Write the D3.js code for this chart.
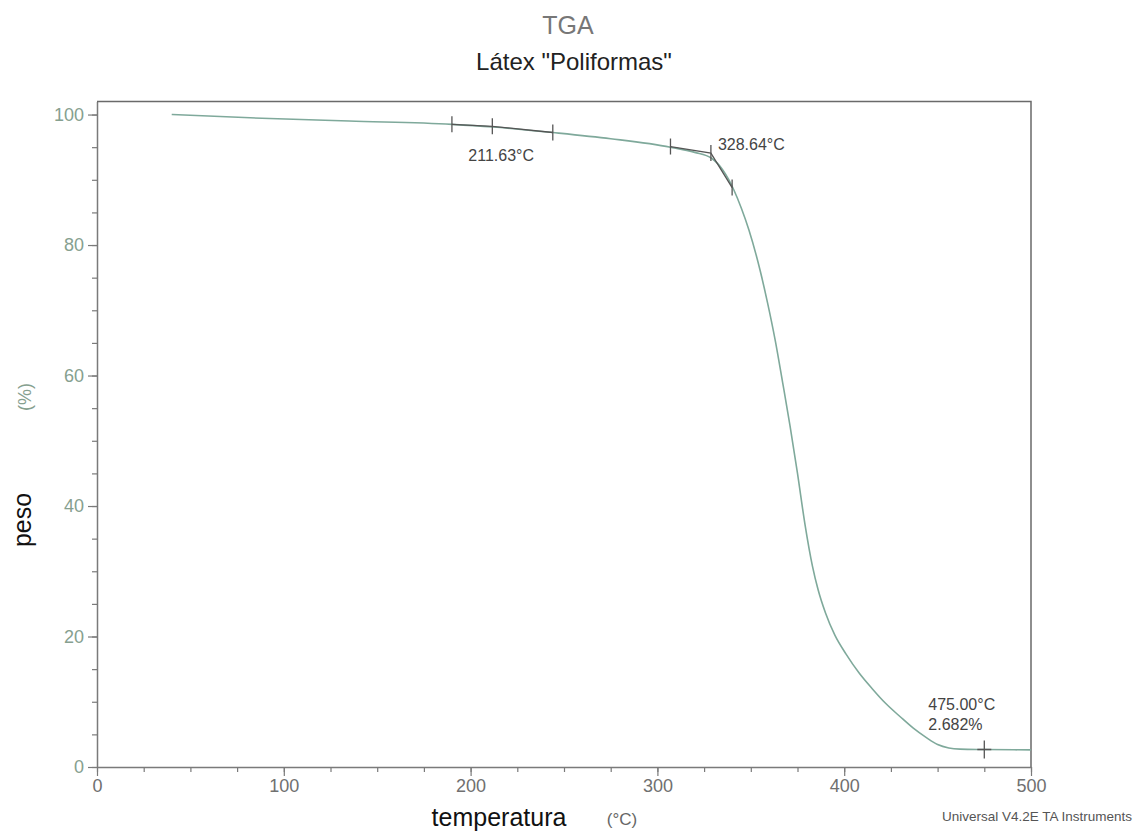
<!DOCTYPE html>
<html>
<head>
<meta charset="utf-8">
<script src="https://cdn.jsdelivr.net/npm/d3@7"></script>
<style>
  body { margin: 0; background: #fff; }
  svg { font-family: "Liberation Sans", Arial, sans-serif; }
</style>
</head>
<body>
<div id="tga"></div>
<script>
// TGA curve
var temps   = [40, 82, 135, 190, 212, 244, 275, 307, 320, 329, 335, 341, 345, 349, 355, 359, 363, 367, 371, 375, 379, 383, 386, 390, 395, 401, 408, 415, 422, 430, 437, 444, 450, 456, 462, 475, 500];
var weights = [100.0, 99.5, 99.0, 98.5, 98.1, 97.25, 96.3, 95.0, 94.2, 93.3, 91.5, 88.4, 85.6, 82.3, 76.1, 71.1, 65.5, 59.0, 52.3, 45.0, 37.2, 30.8, 27.2, 23.6, 20.2, 17.3, 14.4, 12.0, 9.8, 7.7, 5.95, 4.5, 3.45, 2.92, 2.74, 2.68, 2.62];

// onset tangents (start, onset, end)
var onsetTemps1 = [190, 211.63, 244], onsetWeights1 = [98.5, 98.2, 97.25];
var onsetTemps2 = [307, 328.64, 340], onsetWeights2 = [95.1, 94.1, 88.8];
var endTemp = 475.00, endWeight = 2.682;

var xMajor = [0, 100, 200, 300, 400, 500];
var yMajor = [0, 20, 40, 60, 80, 100];

var margin = { top: 101.5, left: 97 },
    width = 934, height = 665.5;

var svg = d3.select("#tga").append("svg")
    .attr("width", 1139)
    .attr("height", 838);

var g = svg.append("g")
    .attr("transform", "translate(" + margin.left + "," + margin.top + ")");

var x = d3.scaleLinear().domain([0, 500]).range([0, width]);
var y = d3.scaleLinear().domain([0, 102]).range([height, 0]);

// minor ticks first, no domain line
var xMinor = g.append("g")
    .attr("transform", "translate(0," + height + ")")
    .call(d3.axisBottom(x).tickValues(d3.range(0, 501, 25)).tickSize(5).tickFormat(""));
xMinor.select(".domain").remove();
var yMinor = g.append("g")
    .call(d3.axisLeft(y).tickValues(d3.range(0, 101, 5)).tickSize(5).tickFormat(""));
yMinor.select(".domain").remove();

var gx = g.append("g")
    .attr("transform", "translate(0," + height + ")")
    .call(d3.axisBottom(x).tickValues(xMajor).tickSize(9).tickSizeOuter(0).tickPadding(3));
gx.selectAll("text").attr("font-size", 18).attr("fill", "#707070");

var gy = g.append("g")
    .call(d3.axisLeft(y).tickValues(yMajor).tickSize(9).tickSizeOuter(0).tickPadding(4));
gy.selectAll("text").attr("font-size", 18).attr("fill", "#86a08f");

g.selectAll(".tick line").attr("stroke", "#7a7a7a").attr("stroke-width", 1.2);
g.selectAll(".domain").attr("stroke", "#7a7a7a").attr("stroke-width", 1.5);

// frame top and right
g.append("path")
    .attr("d", "M0,0H" + width + "V" + height)
    .attr("fill", "none")
    .attr("stroke", "#6a6a6a")
    .attr("stroke-width", 1.5);

var line = d3.line()
    .x(function(d, i) { return x(temps[i]); })
    .y(function(d) { return y(d); })
    .curve(d3.curveMonotoneX);

g.append("path")
    .attr("d", line(weights))
    .attr("fill", "none")
    .attr("stroke", "#7fa99b")
    .attr("stroke-width", 1.6);

function onset(ts, ws) {
    var pts = ts.map(function(t, i) { return [x(t), y(ws[i])]; });
    g.append("path")
        .attr("d", d3.line()(pts))
        .attr("fill", "none")
        .attr("stroke", "#555")
        .attr("stroke-width", 1.3);
    g.selectAll(null)
        .data(pts)
        .enter().append("line")
        .attr("x1", function(d) { return d[0]; })
        .attr("x2", function(d) { return d[0]; })
        .attr("y1", function(d) { return d[1] - 8; })
        .attr("y2", function(d) { return d[1] + 8; })
        .attr("stroke", "#555")
        .attr("stroke-width", 1.3);
}
onset(onsetTemps1, onsetWeights1);
onset(onsetTemps2, onsetWeights2);

// end marker cross
g.append("path")
    .attr("d", "M" + (x(endTemp) - 7) + "," + y(endWeight) + "H" + (x(endTemp) + 7) +
        "M" + x(endTemp) + "," + (y(endWeight) - 9) + "V" + (y(endWeight) + 9))
    .attr("stroke", "#555")
    .attr("stroke-width", 1.3);

var ann = g.append("g").attr("font-size", 16).attr("fill", "#444");
ann.append("text")
    .attr("x", x(onsetTemps1[1]) - 24)
    .attr("y", y(onsetWeights1[1]) + 35)
    .text(onsetTemps1[1].toFixed(2) + "°C");
ann.append("text")
    .attr("x", x(onsetTemps2[1]) + 7)
    .attr("y", y(onsetWeights2[1]) - 3)
    .text(onsetTemps2[1].toFixed(2) + "°C");
ann.append("text")
    .attr("x", x(endTemp) - 56)
    .attr("y", y(endWeight) - 40)
    .text(endTemp.toFixed(2) + "°C");
ann.append("text")
    .attr("x", x(endTemp) - 56)
    .attr("y", y(endWeight) - 20)
    .text(endWeight.toFixed(3) + "%");

// titles
svg.append("text")
    .attr("x", 568).attr("y", 34)
    .attr("text-anchor", "middle")
    .attr("font-size", 25)
    .attr("fill", "#777")
    .text("TGA");
svg.append("text")
    .attr("x", 574).attr("y", 70)
    .attr("text-anchor", "middle")
    .attr("font-size", 24)
    .attr("fill", "#222")
    .text("Látex \"Poliformas\"");

// axis titles
svg.append("text")
    .attr("transform", "translate(31,520) rotate(-90)")
    .attr("text-anchor", "middle")
    .attr("font-size", 25)
    .attr("fill", "#111")
    .text("peso");
svg.append("text")
    .attr("transform", "translate(31,397) rotate(-90)")
    .attr("text-anchor", "middle")
    .attr("font-size", 18)
    .attr("fill", "#86a08f")
    .text("(%)");
svg.append("text")
    .attr("x", 499).attr("y", 826)
    .attr("text-anchor", "middle")
    .attr("font-size", 25)
    .attr("fill", "#111")
    .text("temperatura");
svg.append("text")
    .attr("x", 622).attr("y", 825)
    .attr("text-anchor", "middle")
    .attr("font-size", 17)
    .attr("fill", "#666")
    .text("(°C)");

svg.append("text")
    .attr("x", 1132).attr("y", 821)
    .attr("text-anchor", "end")
    .attr("font-size", 13.5)
    .attr("fill", "#555")
    .text("Universal V4.2E TA Instruments");
</script>
</body>
</html>
